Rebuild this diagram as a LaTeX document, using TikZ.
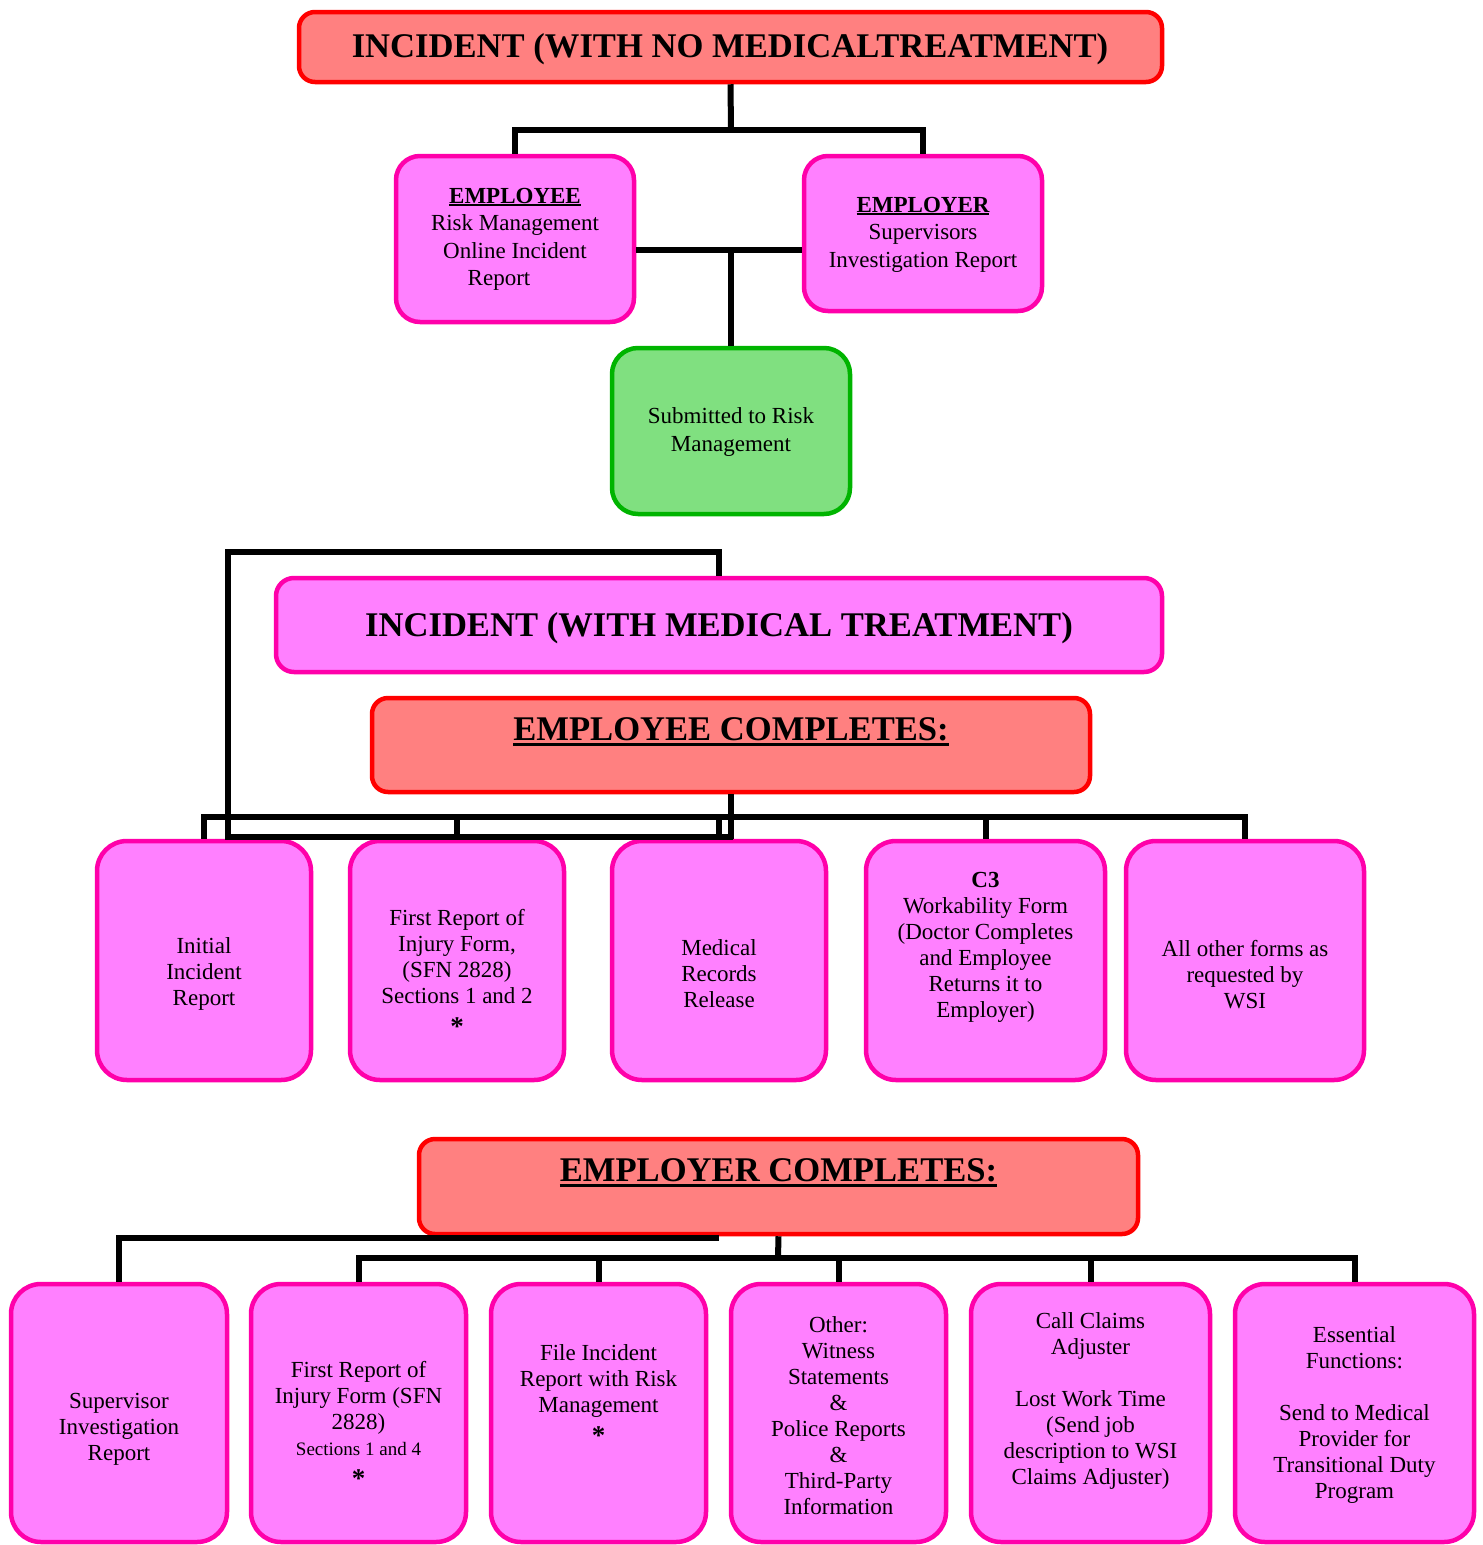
\documentclass[tikz,border=0pt]{standalone}
\usepackage{fontspec}
\setmainfont{Liberation Serif}
\definecolor{pinkfill}{HTML}{FF80FF}
\definecolor{pinkline}{HTML}{FF00AA}
\definecolor{salmon}{HTML}{FF8080}
\definecolor{redline}{HTML}{FF0000}
\definecolor{greenfill}{HTML}{80E080}
\definecolor{greenline}{HTML}{00B400}
\newcommand{\myul}[3]{\setbox0\hbox{#3}\rlap{\rule[#1]{\wd0}{#2}}\box0}
\newcommand{\myast}{{\fontsize{27}{26}\selectfont\bfseries\raisebox{-6pt}{*}}}
\begin{document}
\begin{tikzpicture}[x=1pt,y=-1pt,
 pbox/.style={draw=pinkline, fill=pinkfill, line width=4.5pt, rounded corners=30pt, inner sep=0pt},
 tbox/.style={draw=pinkline, fill=pinkfill, line width=4.5pt, rounded corners=24pt, inner sep=0pt},
 rbox/.style={draw=redline, fill=salmon, line width=4.5pt, rounded corners=16pt, inner sep=0pt},
 gbox/.style={draw=greenline, fill=greenfill, line width=4.5pt, rounded corners=26pt, inner sep=0pt},
 txt/.style={align=center, inner sep=0pt, font=\fontsize{23}{26}\selectfont},
 ttxt/.style={align=center, inner sep=0pt, font=\fontsize{23}{27.5}\selectfont},
 big/.style={inner sep=0pt, font=\fontsize{34.6}{40}\selectfont\bfseries},
 conn/.style={line width=6pt}]
\useasboundingbox (0,0) rectangle (1483,1545);

% ---------- boxes ----------
\node[rbox, minimum width=863pt, minimum height=70pt] (top) at (730.5,47) {};
\node[tbox, minimum width=238pt, minimum height=166pt] (emp) at (515,239) {};
\node[tbox, minimum width=238pt, minimum height=155pt] (empr) at (923,233.5) {};
\node[gbox, minimum width=238pt, minimum height=166pt] (green) at (731,431) {};
\node[tbox, rounded corners=18pt, minimum width=886pt, minimum height=94pt] (med) at (719,625) {};
\node[rbox, minimum width=718pt, minimum height=94pt] (ec) at (731,745) {};

\node[pbox, minimum width=214pt, minimum height=239pt] (ra) at (204,960.5) {};
\node[pbox, minimum width=214pt, minimum height=239pt] (rb) at (457,960.5) {};
\node[pbox, minimum width=214pt, minimum height=239pt] (rc) at (719,960.5) {};
\node[pbox, minimum width=239pt, minimum height=239pt] (rd) at (985.5,960.5) {};
\node[pbox, minimum width=238pt, minimum height=239pt] (re) at (1245,960.5) {};

\node[rbox, minimum width=719pt, minimum height=95pt] (ec2) at (778.5,1186.5) {};

\node[pbox, minimum width=216pt, minimum height=258pt] (sa) at (119,1413) {};
\node[pbox, minimum width=215pt, minimum height=258pt] (sb) at (358.5,1413) {};
\node[pbox, minimum width=215pt, minimum height=258pt] (sc) at (598.5,1413) {};
\node[pbox, minimum width=215pt, minimum height=258pt] (sd) at (838.5,1413) {};
\node[pbox, minimum width=239pt, minimum height=258pt] (se) at (1090.5,1413) {};
\node[pbox, minimum width=239pt, minimum height=258pt] (sf) at (1354.5,1413) {};

% ---------- connectors ----------
\coordinate (j1) at (731,130);
\draw[conn] (top.south) -- (j1);
\draw[conn] (emp.north) |- (j1) -| (empr.north);
\coordinate (j2) at (731,250);
\draw[conn] (emp.east |- j2) -- (empr.west |- j2);
\draw[conn] (j2) -- (green.north);

\coordinate (b1) at (719,552);
\coordinate (b2) at (228,552);
\coordinate (b3) at (228,837);
\coordinate (b4) at (733,837);
\draw[conn] (med.north) -- (b1) -- (b2) -- (b3) -- (b4);

\coordinate (h1) at (731,817);
\draw[conn] (ec.south) -- (h1);
\foreach \n in {ra,rb,rc,rd,re} \draw[conn] (h1) -| (\n.north);
\draw[conn] (h1) -- (h1 |- ra.north);

\coordinate (h2) at (778,1258);
\draw[conn] (ec2.south) -- (h2);
\foreach \n in {sb,sc,sd,se,sf} \draw[conn] (h2) -| (\n.north);
\coordinate (h3) at (719,1238);
\draw[conn] (h3) -| (sa.north);

% ---------- texts ----------
\node[big] (ttop) at (730,49) {INCIDENT (WITH NO MEDICALTREATMENT)};
\node[ttxt] (temp) at (515,239.5) {\textbf{\myul{-3pt}{2pt}{EMPLOYEE}}\\Risk Management\\Online Incident\\Report\hspace*{32pt}};
\node[ttxt] (tempr) at (923,234.5) {\textbf{\myul{-3pt}{2pt}{EMPLOYER}}\\Supervisors\\Investigation Report};
\node[ttxt] (tgreen) at (731,432) {Submitted to Risk\\Management};
\node[big] (tmed) at (719,628) {INCIDENT (WITH MEDICAL TREATMENT)};
\node[big] (tec) at (731,732) {\myul{-5pt}{3pt}{EMPLOYEE COMPLETES:}};

\node[txt] (tra) at (204,974) {Initial\\Incident\\Report};
\node[txt] (trb) at (457,972) {First Report of\\Injury Form,\\(SFN 2828)\\Sections 1 and 2\\\myast};
\node[txt] (trc) at (719,974) {Medical\\Records\\Release};
\node[txt] (trd) at (985.5,947) {\textbf{C3}\\Workability Form\\(Doctor Completes\\and Employee\\Returns it to\\Employer)};
\node[txt] (tre) at (1245,975) {All other forms as\\requested by\\WSI};

\node[big] (tec2) at (778.5,1173) {\myul{-5pt}{3pt}{EMPLOYER COMPLETES:}};

\node[txt] (tsa) at (119,1429) {Supervisor\\Investigation\\Report};
\node[txt] (tsb) at (358.5,1424.5) {First Report of\\Injury Form (SFN\\2828)\\{\fontsize{19}{26}\selectfont Sections 1 and 4}\\\myast};
\node[txt] (tsc) at (598.5,1394.5) {File Incident\\Report with Risk\\Management\\\myast};
\node[txt] (tsd) at (838.5,1415.5) {Other:\\Witness\\Statements\\\&\\Police Reports\\\&\\Third-Party\\Information};
\node[txt] (tse) at (1090.5,1401) {Call Claims\\Adjuster\\[26pt]Lost Work Time\\(Send job\\description to WSI\\Claims Adjuster)};
\node[txt] (tsf) at (1354.5,1415) {Essential\\Functions:\\[26pt]Send to Medical\\Provider for\\Transitional Duty\\Program};
\end{tikzpicture}
\end{document}
